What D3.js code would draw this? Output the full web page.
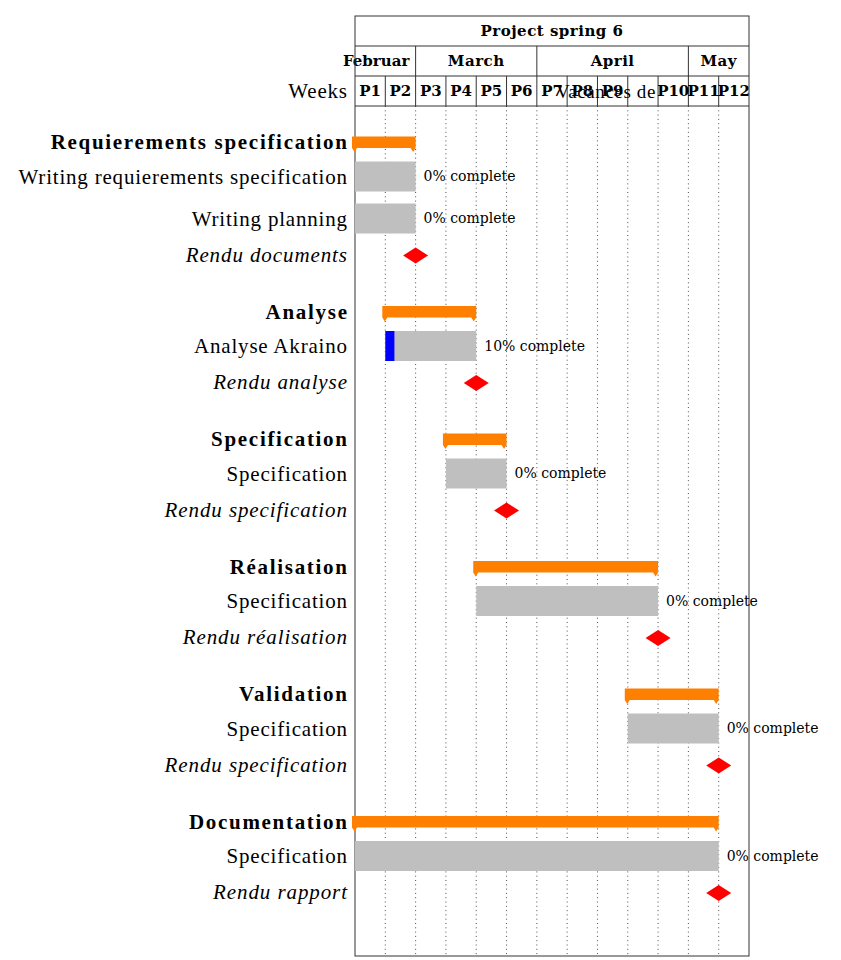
<!DOCTYPE html>
<html>
<head>
<meta charset="utf-8">
<script src="https://cdn.jsdelivr.net/npm/d3@7"></script>
<style>
  body { margin: 0; background: #fff; }
  text { font-family: "Liberation Serif", "DejaVu Serif", serif; }
  .hdr { font-family: "DejaVu Serif", serif; font-weight: bold; font-size: 15px; letter-spacing: 0.5px; }
  .pct { font-family: "DejaVu Serif", serif; font-size: 14px; }
</style>
</head>
<body>
<div id="chart"></div>
<script>
const title = "Project spring 6";
const weekLabels = ["P1", "P2", "P3", "P4", "P5", "P6", "P7", "P8", "P9", "Vacances de", "P10", "P11", "P12"];
const months = [
    { name: "Februar", start: 0, end: 2 },
    { name: "March", start: 2, end: 6 },
    { name: "April", start: 6, end: 11 },
    { name: "May", start: 11, end: 13 }
];

// type: group / task / milestone ; start,end in week columns
const rows = [
    { type: "group", label: "Requierements specification", start: 0, end: 2 },
    { type: "task", label: "Writing requierements specification", start: 0, end: 2, progress: 0 },
    { type: "task", label: "Writing planning", start: 0, end: 2, progress: 0 },
    { type: "milestone", label: "Rendu documents", at: 2 },
    { type: "group", label: "Analyse", start: 1, end: 4 },
    { type: "task", label: "Analyse Akraino", start: 1, end: 4, progress: 10 },
    { type: "milestone", label: "Rendu analyse", at: 4 },
    { type: "group", label: "Specification", start: 3, end: 5 },
    { type: "task", label: "Specification", start: 3, end: 5, progress: 0 },
    { type: "milestone", label: "Rendu specification", at: 5 },
    { type: "group", label: "Réalisation", start: 4, end: 10 },
    { type: "task", label: "Specification", start: 4, end: 10, progress: 0 },
    { type: "milestone", label: "Rendu réalisation", at: 10 },
    { type: "group", label: "Validation", start: 9, end: 12 },
    { type: "task", label: "Specification", start: 9, end: 12, progress: 0 },
    { type: "milestone", label: "Rendu specification", at: 12 },
    { type: "group", label: "Documentation", start: 0, end: 12 },
    { type: "task", label: "Specification", start: 0, end: 12, progress: 0 },
    { type: "milestone", label: "Rendu rapport", at: 12 }
];

const width = 841;
const height = 960;
const boxLeft = 355, boxRight = 749, boxTop = 16, boxBottom = 956;
const headerRow = 30;
const chartTop = boxTop + headerRow * 3;
const labelX = 347;

const svg = d3.select("#chart")
    .append("svg")
    .attr("width", width)
    .attr("height", height);

const x = d3.scaleLinear()
    .domain([0, weekLabels.length])
    .range([boxLeft, boxRight]);

// vertical spacing between consecutive row types
const gap = { "group-task": 34.5, "task-task": 42, "task-milestone": 36, "milestone-group": 57 };
let yPos = 142;
rows.forEach((r, i) => {
    if (i > 0) yPos += gap[rows[i - 1].type + "-" + r.type];
    r.y = yPos;
});

// dotted week lines
svg.append("g")
    .selectAll("line")
    .data(d3.range(1, weekLabels.length))
    .enter().append("line")
    .attr("x1", d => x(d)).attr("x2", d => x(d))
    .attr("y1", chartTop).attr("y2", boxBottom)
    .attr("stroke", "#222")
    .attr("stroke-width", 0.8)
    .attr("stroke-dasharray", "1,3.3");

// header
const header = svg.append("g");
header.append("text")
    .attr("class", "hdr")
    .attr("x", (boxLeft + boxRight) / 2)
    .attr("y", boxTop + headerRow / 2)
    .attr("dy", "0.35em")
    .attr("text-anchor", "middle")
    .text(title);

[boxTop + headerRow, boxTop + headerRow * 2, chartTop].forEach(yy => {
    header.append("line")
        .attr("x1", boxLeft).attr("x2", boxRight)
        .attr("y1", yy).attr("y2", yy)
        .attr("stroke", "#333").attr("stroke-width", 1);
});

months.forEach(m => {
    if (m.start > 0) {
        header.append("line")
            .attr("x1", x(m.start)).attr("x2", x(m.start))
            .attr("y1", boxTop + headerRow).attr("y2", boxTop + headerRow * 2)
            .attr("stroke", "#333");
    }
    header.append("text")
        .attr("class", "hdr")
        .attr("x", m.start === 0 ? 343 : (x(m.start) + x(m.end)) / 2)
        .attr("y", boxTop + headerRow * 1.5)
        .attr("dy", "0.35em")
        .attr("text-anchor", m.start === 0 ? "start" : "middle")
        .style("letter-spacing", m.start === 0 ? "0px" : null)
        .text(m.name);
});

weekLabels.forEach((w, i) => {
    if (i > 0) {
        header.append("line")
            .attr("x1", x(i)).attr("x2", x(i))
            .attr("y1", boxTop + headerRow * 2).attr("y2", chartTop)
            .attr("stroke", "#333");
    }
});
weekLabels.forEach((w, i) => {
    const isLong = w.length > 3;
    header.append("text")
        .attr("class", isLong ? null : "hdr")
        .attr("x", isLong ? 606 : x(i + 0.5))
        .attr("y", boxTop + headerRow * 2.5)
        .attr("dy", "0.35em")
        .attr("text-anchor", "middle")
        .style("font-size", isLong ? "19px" : null)
        .style("letter-spacing", isLong ? "0.6px" : "0px")
        .text(w);
});

svg.append("text")
    .attr("x", labelX + 0.8)
    .attr("y", boxTop + headerRow * 2.5)
    .attr("dy", "0.35em")
    .attr("text-anchor", "end")
    .style("font-size", "21px")
    .style("letter-spacing", "0.8px")
    .text("Weeks");

// outer frame
svg.append("rect")
    .attr("x", boxLeft).attr("y", boxTop)
    .attr("width", boxRight - boxLeft).attr("height", boxBottom - boxTop)
    .attr("fill", "none")
    .attr("stroke", "#333")
    .attr("stroke-width", 1);

// labels
const spacing = { group: 1.7, task: 0.8, milestone: 0.9 };
svg.append("g")
    .selectAll("text")
    .data(rows)
    .enter().append("text")
    .attr("x", d => labelX + spacing[d.type])
    .attr("y", d => d.y)
    .attr("dy", "0.35em")
    .attr("text-anchor", "end")
    .style("font-size", "21px")
    .style("letter-spacing", d => spacing[d.type] + "px")
    .style("font-weight", d => d.type === "group" ? "bold" : "normal")
    .style("font-style", d => d.type === "milestone" ? "italic" : "normal")
    .text(d => d.label);

// group bars
const groups = rows.filter(r => r.type === "group");
svg.append("g")
    .selectAll("path")
    .data(groups)
    .enter().append("path")
    .attr("d", d => {
        const x0 = x(d.start) - 3, x1 = x(d.end);
        const y0 = d.y - 5.5, y1 = d.y + 6;
        return `M${x0},${y0}H${x1}V${y1}L${x1 - 2.5},${y1 + 4}L${x1 - 5},${y1}` +
            `H${x0 + 5}L${x0 + 2.5},${y1 + 4}L${x0},${y1}Z`;
    })
    .attr("fill", "#ff8000");

// task bars
const tasks = rows.filter(r => r.type === "task");
const tg = svg.append("g");
tg.selectAll("rect.bar")
    .data(tasks)
    .enter().append("rect")
    .attr("class", "bar")
    .attr("x", d => x(d.start))
    .attr("y", d => d.y - 15)
    .attr("width", d => x(d.end) - x(d.start))
    .attr("height", 30)
    .attr("fill", "#bfbfbf");

tg.selectAll("rect.prog")
    .data(tasks.filter(d => d.progress > 0))
    .enter().append("rect")
    .attr("class", "prog")
    .attr("x", d => x(d.start))
    .attr("y", d => d.y - 15)
    .attr("width", d => (x(d.end) - x(d.start)) * d.progress / 100)
    .attr("height", 30)
    .attr("fill", "#0000ff");

tg.selectAll("text")
    .data(tasks)
    .enter().append("text")
    .attr("class", "pct")
    .attr("x", d => x(d.end) + 8)
    .attr("y", d => d.y)
    .attr("dy", "0.35em")
    .text(d => d.progress + "% complete");

// milestones
svg.append("g")
    .selectAll("path")
    .data(rows.filter(r => r.type === "milestone"))
    .enter().append("path")
    .attr("d", d => {
        const cx = x(d.at), cy = d.y + 1;
        return `M${cx - 12.5},${cy}L${cx},${cy - 8}L${cx + 12.5},${cy}L${cx},${cy + 8}Z`;
    })
    .attr("fill", "#ff0000");
</script>
</body>
</html>
